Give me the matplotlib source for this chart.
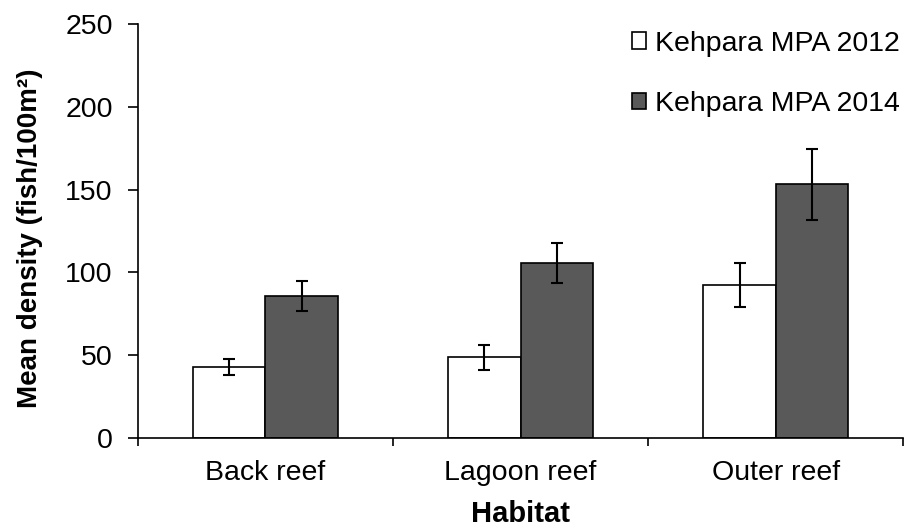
import matplotlib.pyplot as plt
import numpy as np

plt.rcParams["font.family"] = ["Liberation Sans", "DejaVu Sans"]

habitats = ["Back reef", "Lagoon reef", "Outer reef"]
series = ["Kehpara MPA 2012", "Kehpara MPA 2014"]
density_2012 = [42.8, 48.8, 92.4]
density_2014 = [85.9, 105.6, 153.2]
err_2012 = [4.9, 7.5, 13.3]
err_2014 = [9.0, 12.2, 21.5]
colors = ["white", "#595959"]

fig = plt.figure(figsize=(9.11, 5.29), dpi=100)
ax = fig.add_axes([0.1512, 0.1715, 0.8404, 0.7835])

x = np.arange(len(habitats))
w = 0.284
for i, (vals, errs) in enumerate([(density_2012, err_2012), (density_2014, err_2014)]):
    ax.bar(x + (i - 0.5) * w, vals, width=w, color=colors[i], edgecolor="black",
           linewidth=1.2, label=series[i], zorder=2)
    ax.errorbar(x + (i - 0.5) * w, vals, yerr=errs, fmt="none", ecolor="black",
                elinewidth=1.5, capsize=4, capthick=1.5, zorder=3)

ax.set_xlim(-0.5, len(habitats) - 0.5)
ax.set_ylim(0, 250)
ax.set_yticks(range(0, 251, 50))
ax.set_xticks(np.arange(-0.5, len(habitats), 1.0))
ax.set_xticklabels([])
ax.set_xticks(x, minor=True)
ax.set_xticklabels(habitats, minor=True, fontsize=20.5)
ax.tick_params(axis="x", which="minor", length=0, pad=16)
ax.tick_params(axis="x", which="major", length=6, width=1.2, direction="out")
ax.tick_params(axis="y", length=7, width=1.2, direction="out", labelsize=20.5, pad=11)

for side in ["top", "right"]:
    ax.spines[side].set_visible(False)
for side in ["left", "bottom"]:
    ax.spines[side].set_linewidth(1.2)

ax.set_xlabel("Habitat", fontsize=21, fontweight="bold")
ax.xaxis.set_label_coords(0.5, -0.15)
ax.set_ylabel("Mean density (fish/100m²)", fontsize=20, fontweight="bold")
ax.yaxis.set_label_coords(-0.1237, 0.482)

ax.legend(loc="upper left", bbox_to_anchor=(632 / 911, 0.942), bbox_transform=fig.transFigure,
          frameon=False, fontsize=20.5, borderpad=0, borderaxespad=0,
          handlelength=0.5, handleheight=0.5, handletextpad=0.3, labelspacing=1.2)

fig.savefig("out.png", dpi=100)
